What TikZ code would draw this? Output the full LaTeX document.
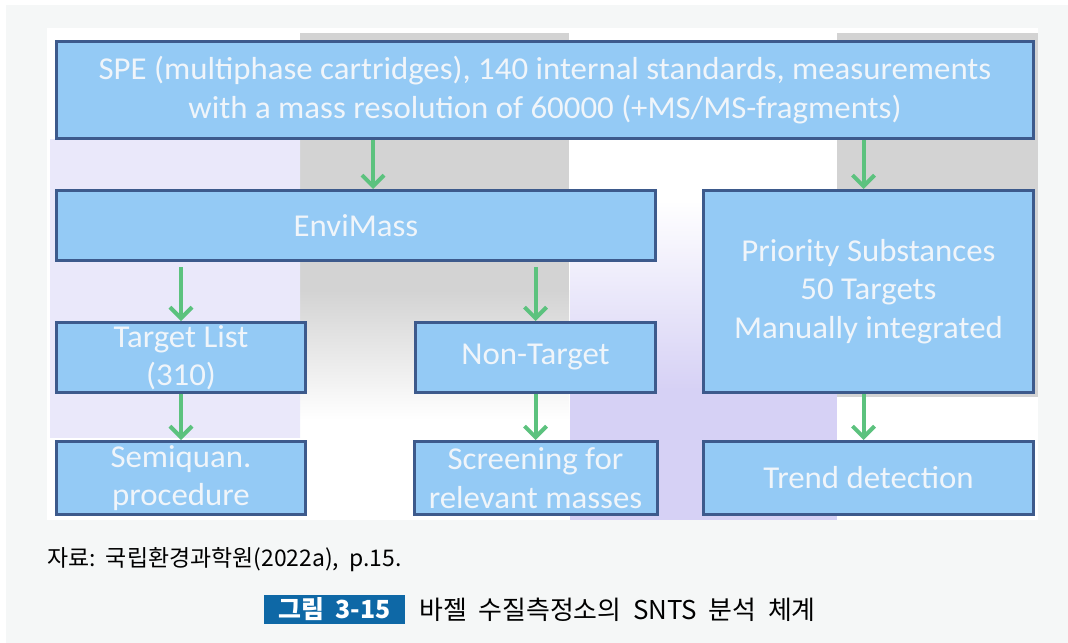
\documentclass[tikz,border=0pt]{standalone}
\usepackage{fontspec}
\setmainfont{Carlito}[FakeStretch=1.03]
\newfontfamily\krfont{Noto Sans CJK KR}
\usetikzlibrary{positioning,arrows.meta}
\definecolor{boxfill}{RGB}{148,202,245}
\definecolor{boxline}{RGB}{61,90,140}
\definecolor{boxtext}{RGB}{240,245,250}
\definecolor{arrowgreen}{RGB}{92,194,126}
\definecolor{panelgray}{RGB}{245,247,247}
\definecolor{slidegray}{RGB}{211,211,211}
\definecolor{lavender}{RGB}{214,209,245}
\definecolor{lavlight}{RGB}{234,232,250}
\definecolor{figblue}{RGB}{14,104,166}
\tikzset{stepbox/.style={rectangle, draw=boxline, fill=boxfill, line width=3bp, text=boxtext, align=center, inner sep=0pt, font=\fontsize{32}{38.5}\selectfont},
flow/.style={draw=arrowgreen, line width=4bp, -{Straight Barb[length=11bp, width=22bp]}},}

\begin{document}
\begin{tikzpicture}[x=1bp, y=-1bp, node distance=46bp]
\useasboundingbox (0,0) rectangle (1068,643);
% page and slide background
\fill[white] (0,0) rectangle (1068,643);
\fill[panelgray] (6,5) rectangle (1068,643);
\fill[white] (47,28) rectangle (1038,520);
\fill[slidegray] (300,33) rectangle (569,290);
\shade[top color=slidegray, bottom color=white] (300,290) rectangle (569,420);
\fill[slidegray] (837,33) rectangle (1038,397);
\shade[top color=lavlight, middle color=lavender, bottom color=lavlight] (50,140) rectangle (300,437);
\shade[top color=white, bottom color=lavender] (570,200) rectangle (837,390);
\fill[lavender] (570,390) rectangle (837,520);

% boxes
\node[stepbox, minimum width=977bp, minimum height=97bp] (spe) at (545,90) {SPE (multiphase cartridges), 140 internal standards, measurements\\with a mass resolution of 60000 (+MS/MS-fragments)};
\node[stepbox, minimum width=599bp, minimum height=70bp] (envi) [below=49bp of spe.south west, anchor=north west] {EnviMass};
\node[stepbox, minimum width=330bp, minimum height=202bp] (prio) [below=49bp of spe.south east, anchor=north east] {Priority Substances\\50 Targets\\Manually integrated};
\node[stepbox, minimum width=249bp, minimum height=70bp] (tl) [below=59bp of envi.south west, anchor=north west] {Target List\\(310)};
\node[stepbox, minimum width=240bp, minimum height=70bp] (nt) [below=59bp of envi.south east, anchor=north east] {Non-Target};
\node[stepbox, minimum width=249bp, minimum height=73bp] (sq) [below=of tl] {Semiquan.\\procedure};
\node[stepbox, minimum width=243bp, minimum height=73bp] (sc) [below=of nt] {Screening for\\relevant masses};
\node[stepbox, minimum width=330bp, minimum height=73bp] (tr) [below=of prio] {Trend detection};

% arrows
\draw[flow] ([xshift=17bp]envi.north |- spe.south) -- ([xshift=17bp]envi.north);
\draw[flow] ([xshift=-5bp]prio.north |- spe.south) -- ([xshift=-5bp]prio.north);
\draw[flow, shorten <=5bp] (tl.north |- envi.south) -- (tl);
\draw[flow, shorten <=5bp] (nt.north |- envi.south) -- (nt);
\draw[flow] (tl) -- (sq);
\draw[flow] (nt) -- (sc);
\draw[flow] ([xshift=-5bp]prio.south) -- ([xshift=-5bp]tr.north);

% source and title
\node[anchor=base west, inner sep=0pt, font=\krfont\fontsize{23}{27}\selectfont] (src) at (47,566) {자료:\ \ 국립환경과학원(2022a),\ \ p.15.};
\node[fill=figblue, text=white, minimum width=141bp, minimum height=29bp, inner sep=0pt, font=\krfont\bfseries\fontsize{25}{29}\selectfont] (fignum) at (334.5,609.5) {그림\ \ 3-15};
\node[right=14bp of fignum, inner sep=0pt, font=\krfont\fontsize{26}{30}\selectfont] (title) {바젤\ \ 수질측정소의\ \ SNTS\ \ 분석\ \ 체계};
\end{tikzpicture}
\end{document}
